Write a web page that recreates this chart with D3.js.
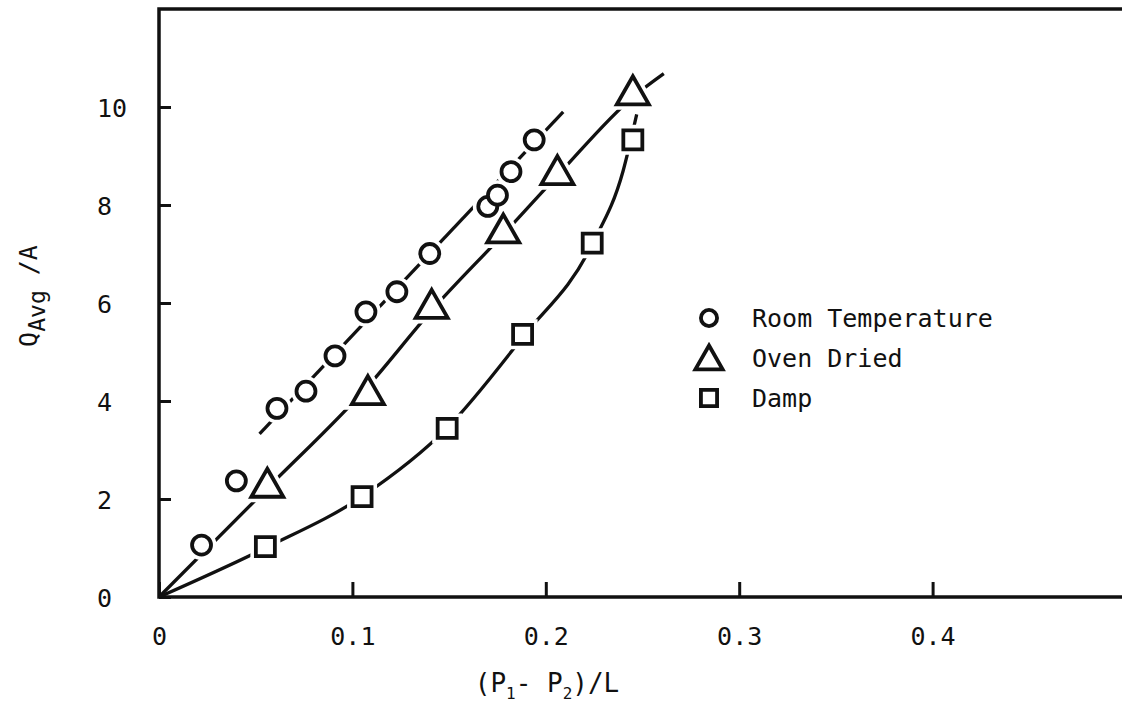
<!DOCTYPE html>
<html>
<head>
<meta charset="utf-8">
<script src="https://cdnjs.cloudflare.com/ajax/libs/d3/7.8.5/d3.min.js"></script>
<style>
body { margin:0; background:#fff; }
text { font-family: "DejaVu Sans Mono", "Liberation Mono", monospace; fill:#111; }
</style>
</head>
<body>
<svg id="chart"></svg>
<script>
var roomX = [0.022, 0.040, 0.061, 0.076, 0.091, 0.107, 0.123, 0.140, 0.170, 0.175, 0.182, 0.194]
var roomY = [1.06, 2.37, 3.85, 4.20, 4.92, 5.82, 6.23, 7.01, 7.97, 8.20, 8.68, 9.33]

var ovenX = [0.056, 0.108, 0.141, 0.178, 0.206, 0.245]
var ovenY = [2.27, 4.16, 5.92, 7.46, 8.65, 10.28]

var dampX = [0.055, 0.105, 0.149, 0.188, 0.224, 0.245]
var dampY = [1.03, 2.05, 3.44, 5.36, 7.22, 9.33]

// hand drawn fitted curves
var roomFitX = [0.052, 0.209]
var roomFitY = [3.33, 9.90]
var ovenFitX = [0, 0.056, 0.108, 0.141, 0.178, 0.206, 0.245, 0.261]
var ovenFitY = [0, 2.22, 4.30, 5.85, 7.40, 8.60, 10.20, 10.68]
var dampFitX = [0, 0.055, 0.105, 0.149, 0.188, 0.224, 0.240, 0.247]
var dampFitY = [0, 1.00, 2.05, 3.45, 5.30, 7.20, 8.70, 9.85]

var xTicks = [0, 0.1, 0.2, 0.3, 0.4]
var xTickLabels = ["0", "0.1", "0.2", "0.3", "0.4"]
var yTicks = [0, 2, 4, 6, 8, 10]
var yTickLabels = ["0", "2", "4", "6", "8", "10"]
var legendNames = ["Room Temperature", "Oven Dried", "Damp"]
var legendShapes = ["circle", "triangle", "square"]

var screen = {width:1122, height:703}
var plot = {left:159, right:1126, top:9, bottom:597}

var svg = d3.select("#chart")
    .attr("width", screen.width)
    .attr("height", screen.height)

var xScale = d3.scaleLinear().domain([0, 0.5]).range([plot.left, plot.right])
var yScale = d3.scaleLinear().domain([0, 12]).range([plot.bottom, plot.top])

var zip = function(xs, ys) { return xs.map(function(x, i) { return [x, ys[i]] }) }

// frame
svg.append("rect")
    .attr("x", xScale(0)).attr("y", yScale(12))
    .attr("width", xScale(0.5) - xScale(0))
    .attr("height", yScale(0) - yScale(12))
    .attr("fill", "none")
    .attr("stroke", "#111")
    .attr("stroke-width", 3.5)

// x axis, ticks point inward
var xAxis = d3.axisBottom(xScale)
    .tickValues(xTicks)
    .tickSize(-15)
    .tickPadding(30)
    .tickFormat(function(d, i) { return xTickLabels[i] })

var gx = svg.append("g")
    .attr("transform", "translate(0," + yScale(0) + ")")
    .call(xAxis)
gx.select(".domain").remove()
gx.selectAll("line").attr("stroke", "#111").attr("stroke-width", 3)
gx.selectAll("text").style("font-size", "25px").attr("fill", "#111")

var yAxis = d3.axisLeft(yScale)
    .tickValues(yTicks)
    .tickSize(-12)
    .tickPadding(0)
    .tickFormat(function(d, i) { return yTickLabels[i] })

var gy = svg.append("g")
    .attr("transform", "translate(" + xScale(0) + ",0)")
    .call(yAxis)
gy.select(".domain").remove()
gy.selectAll("line").attr("stroke", "#111").attr("stroke-width", 3)
gy.selectAll("text")
    .style("font-size", "25px")
    .attr("fill", "#111")
    .attr("text-anchor", "start")
    .attr("x", 97 - xScale(0))
    .attr("dy", "0.36em")

// axis titles
var xt = svg.append("text")
    .attr("x", 547).attr("y", 692)
    .attr("text-anchor", "middle")
    .style("font-size", "26px")
xt.append("tspan").text("(P")
xt.append("tspan").attr("dy", 7).style("font-size", "16px").text("1")
xt.append("tspan").attr("dy", -7).text("- P")
xt.append("tspan").attr("dy", 7).style("font-size", "16px").text("2")
xt.append("tspan").attr("dy", -7).text(")/L")

var yt = svg.append("text")
    .attr("transform", "translate(37,296) rotate(-90)")
    .attr("text-anchor", "middle")
    .style("font-size", "25px")
yt.append("tspan").text("Q")
yt.append("tspan").attr("dy", 8).style("font-size", "23px").text("Avg")
yt.append("tspan").attr("dy", -8).text(" /A")

// curves
var lineGenerator = d3.line()
    .x(function(d) { return xScale(d[0]) })
    .y(function(d) { return yScale(d[1]) })
    .curve(d3.curveMonotoneX)

var fits = [zip(roomFitX, roomFitY), zip(ovenFitX, ovenFitY), zip(dampFitX, dampFitY)]
svg.append("g").selectAll("path")
    .data(fits)
    .enter()
    .append("path")
    .attr("d", lineGenerator)
    .attr("fill", "none")
    .attr("stroke", "#111")
    .attr("stroke-width", 3.3)

// marker shapes
var shapePath = function(shape) {
    if (shape == "circle") return d3.symbol().type(d3.symbolCircle).size(Math.PI * 9.5 * 9.5)()
    if (shape == "square") return "M-9.5,-9.5H9.5V9.5H-9.5Z"
    return "M0,-17L16,11H-16Z"
}

var drawMarkers = function(points, shape) {
    var g = svg.append("g")
    // white halo makes the gap where the line meets the marker
    g.selectAll(".halo")
        .data(points)
        .enter()
        .append("path")
        .attr("class", "halo")
        .attr("d", shapePath(shape))
        .attr("transform", function(d) { return "translate(" + xScale(d[0]) + "," + yScale(d[1]) + ")" })
        .attr("fill", "#fff")
        .attr("stroke", "#fff")
        .attr("stroke-width", 11)
    g.selectAll(".mark")
        .data(points)
        .enter()
        .append("path")
        .attr("class", "mark")
        .attr("d", shapePath(shape))
        .attr("transform", function(d) { return "translate(" + xScale(d[0]) + "," + yScale(d[1]) + ")" })
        .attr("fill", "#fff")
        .attr("stroke", "#111")
        .attr("stroke-width", 3.8)
}

drawMarkers(zip(dampX, dampY), "square")
drawMarkers(zip(ovenX, ovenY), "triangle")
drawMarkers(zip(roomX, roomY), "circle")

// legend
var legend = svg.append("g").attr("transform", "translate(709,318)")
var rows = legend.selectAll("g")
    .data(legendNames)
    .enter()
    .append("g")
    .attr("transform", function(d, i) { return "translate(0," + (i * 40) + ")" })

rows.append("path")
    .attr("d", function(d, i) { return shapePath(legendShapes[i]) })
    .attr("transform", function(d, i) { return legendShapes[i] == "triangle" ? "translate(0,2) scale(0.85)" : "scale(0.85)" })
    .attr("fill", "#fff")
    .attr("stroke", "#111")
    .attr("stroke-width", 4.5)

rows.append("text")
    .attr("x", 43)
    .attr("dy", "0.36em")
    .style("font-size", "25px")
    .text(function(d) { return d })
</script>
</body>
</html>
